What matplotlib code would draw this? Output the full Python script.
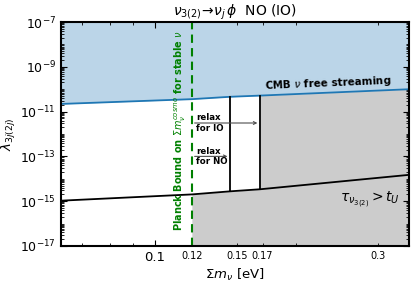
import numpy as np
import matplotlib.pyplot as plt
from matplotlib.ticker import LogLocator, NullFormatter, FixedLocator, FixedFormatter

# CMB free-streaming bound (upper edge of white region)
mnu_cmb = [0.063, 0.12, 0.145, 0.168, 0.35]
lam_cmb = [2.2e-11, 3.6e-11, 4.6e-11, 5.2e-11, 1.0e-10]

# lifetime > age of universe bound (lower edge)
mnu_life = [0.063, 0.12, 0.145, 0.168, 0.25, 0.35]
lam_life = [1.05e-15, 2.0e-15, 2.75e-15, 3.4e-15, 7.6e-15, 1.5e-14]

planck = 0.12
m_no = 0.145
m_io = 0.168
lam_arrow_io = 3.1e-12
lam_arrow_no = 1.0e-13

xmin, xmax = 0.063, 0.35
ymin, ymax = 1e-17, 1e-7

fig = plt.figure(figsize=(4.15, 2.83), dpi=100)
ax = fig.add_axes([0.147, 0.131, 0.839, 0.791])

# blue excluded region above CMB line
ax.fill_between(mnu_cmb, lam_cmb, ymax, color='C0', alpha=0.3, lw=0)
ax.plot(mnu_cmb, lam_cmb, color='C0', lw=1.3)

# grey region
i0 = mnu_life.index(planck)
ax.fill_between(mnu_life[i0:], ymin, lam_life[i0:], color='0.8', lw=0)
j0 = mnu_cmb.index(m_io)
ax.fill_between(mnu_cmb[j0:], ymin, lam_cmb[j0:], color='0.8', lw=0)

ax.plot(mnu_life, lam_life, color='k', lw=1.3)

# vertical lines for NO / IO
for m in [m_no, m_io]:
    ax.plot([m, m], [lam_life[mnu_life.index(m)], lam_cmb[mnu_cmb.index(m)]], color='k', lw=1.3)

# Planck bound
ax.axvline(planck, color='green', ls='--', lw=1.5, dashes=(4, 2.5))
ax.text(0.1175, 1.4e-12, r'Planck Bound on $\Sigma m_\nu^{cosmo}$ for stable $\nu$',
        rotation=90, color='green', fontsize=7, fontweight='bold',
        ha='right', va='center')

# relax arrows
for lam, m, lab in [(lam_arrow_io, m_io, 'relax\nfor IO'), (lam_arrow_no, m_no, 'relax\nfor NO')]:
    ax.annotate('', xy=(m, lam), xytext=(planck, lam),
                arrowprops=dict(arrowstyle='->', color='0.3', lw=0.8, mutation_scale=5))
    ax.text(0.1225, lam, lab, fontsize=6.2, fontweight='bold', ha='left', va='center',
            linespacing=1.25)

ax.text(0.172, 1.05e-10, r'CMB $\nu$ free streaming', fontsize=7.5, fontweight='bold',
        rotation=2.4, rotation_mode='anchor', ha='left', va='baseline')
ax.text(0.249, 1.1e-15, r'$\tau_{\nu_{3(2)}} > t_U$', fontsize=10, ha='left', va='center')

ax.set_xscale('log')
ax.set_yscale('log')
ax.set_xlim(xmin, xmax)
ax.set_ylim(ymin, ymax)

ax.xaxis.set_major_locator(FixedLocator([0.1]))
ax.xaxis.set_major_formatter(FixedFormatter(['0.1']))
ax.xaxis.set_minor_locator(FixedLocator([0.07, 0.08, 0.09, 0.12, 0.15, 0.17, 0.2, 0.3]))
ax.xaxis.set_minor_formatter(FixedFormatter(['', '', '', '0.12', '0.15', '0.17', '', '0.3']))

ax.yaxis.set_major_locator(FixedLocator([1e-17, 1e-15, 1e-13, 1e-11, 1e-9, 1e-7]))
ax.yaxis.set_minor_locator(LogLocator(base=10, subs=np.arange(1, 10), numticks=100))
ax.yaxis.set_minor_formatter(NullFormatter())

ax.tick_params(which='both', direction='in', top=True, right=True)
ax.tick_params(which='major', length=4, labelsize=9)
ax.tick_params(which='minor', length=2, labelsize=7)
ax.tick_params(axis='x', which='major', length=4, labelsize=9.5)
for s in ax.spines.values():
    s.set_linewidth(1.5)

ax.set_xlabel(r'$\Sigma m_\nu$ [eV]', fontsize=9.5, labelpad=2)
ax.set_ylabel(r'$\lambda_{3j(2j)}$', fontsize=9.5, labelpad=2)
ax.set_title(r'$\nu_{3(2)}\!\to\!\nu_j\,\phi$  NO (IO)', fontsize=10, pad=3)

fig.savefig('out.png', dpi=100)
